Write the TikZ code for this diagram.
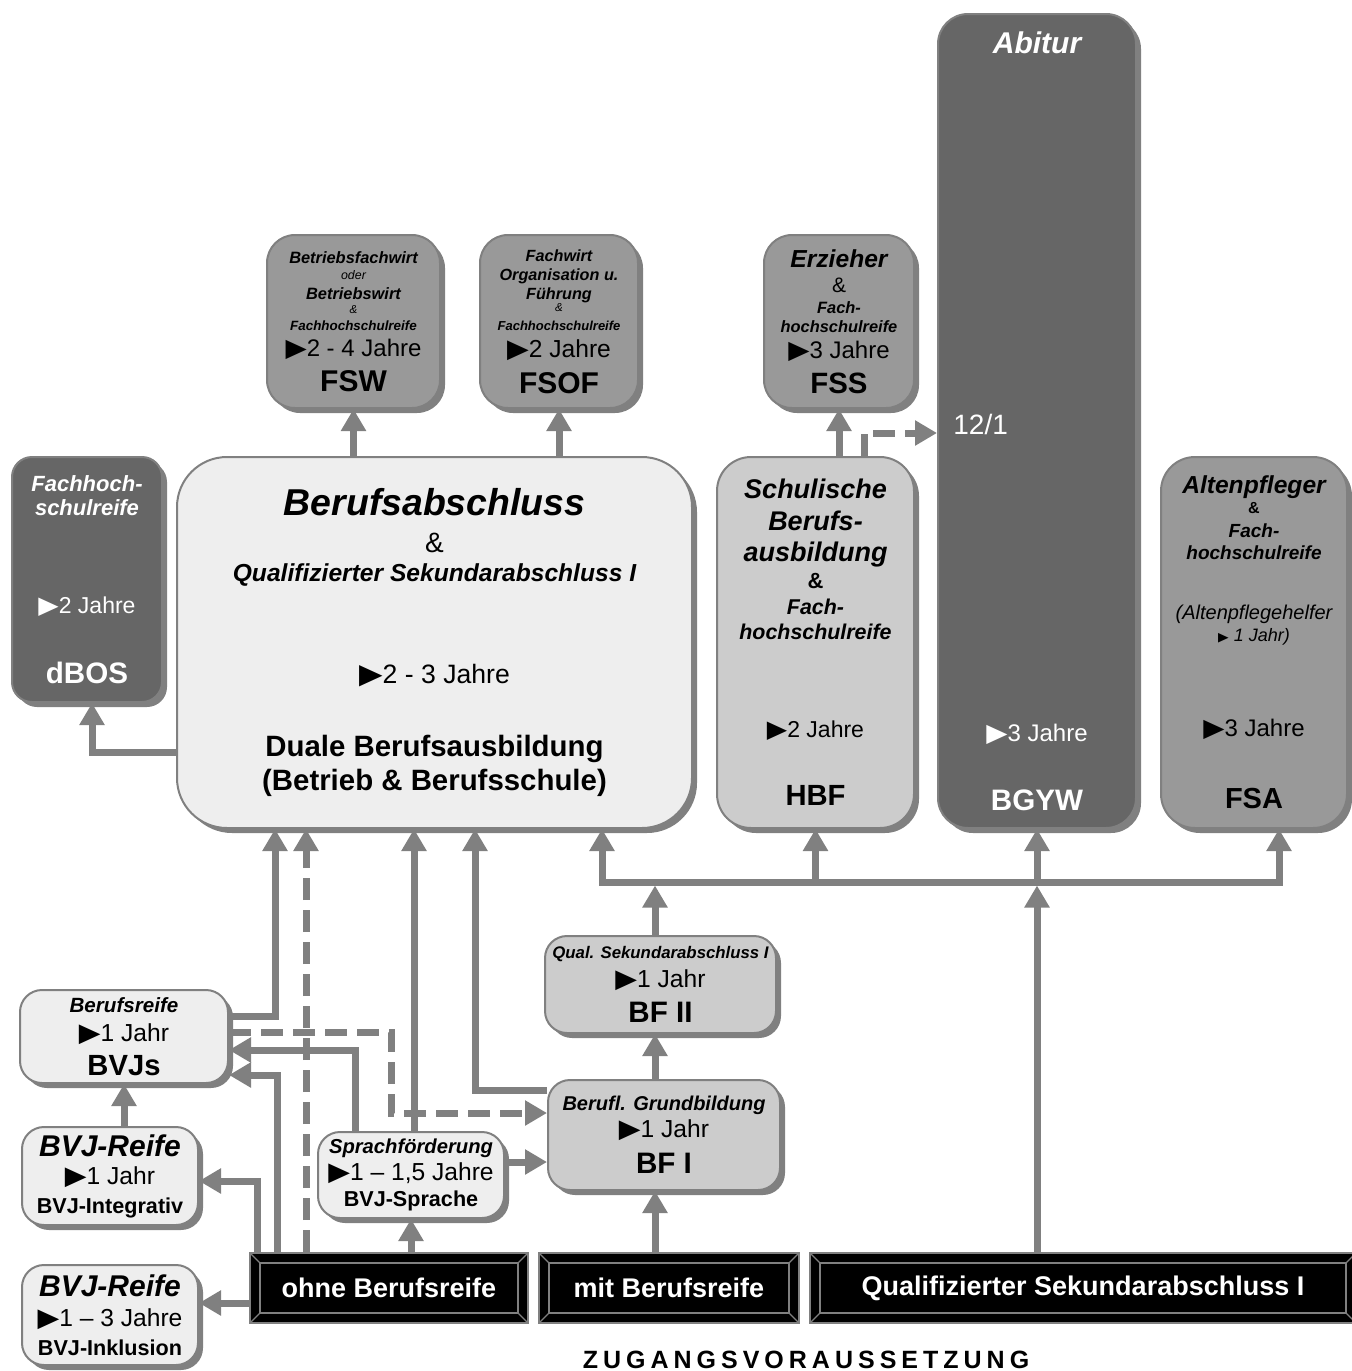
\documentclass[tikz,border=0pt]{standalone}
\usepackage{fontspec}
\setmainfont{Liberation Sans}
\newfontfamily\spacedfont[LetterSpace=20]{Liberation Sans}
\newfontfamily\symfont{DejaVu Sans}
\usetikzlibrary{
  arrows.meta,
  calc,
  positioning,
  shadows
}
\definecolor{linegray}{HTML}{808080}
\definecolor{boxlight}{HTML}{EEEEEE}
\definecolor{boxmid}{HTML}{CCCCCC}
\definecolor{boxgray}{HTML}{999999}
\definecolor{boxdark}{HTML}{666666}
\newcommand{\fs}[1]{\fontsize{#1}{0}\selectfont}
\newcommand{\bi}{\bfseries\itshape}
\newcommand{\pf}{{\symfont\scalebox{1.15}[1.05]{▶}}}
\tikzset{
  box/.style={
    draw=linegray,
    line width=1pt,
    rounded corners=11pt,
    fill=boxlight,
    align=center,
    inner sep=0pt,
    font=\fs{10},
    drop shadow={shadow xshift=2.5pt, shadow yshift=-2.5pt,
      fill=linegray, opacity=1}
  },
  midbox/.style={box, fill=boxmid},
  graybox/.style={box, fill=boxgray},
  darkbox/.style={box, fill=boxdark, text=white},
  bar/.style={
    fill=black,
    draw=linegray,
    line width=1pt,
    minimum height=35pt,
    inner sep=0pt,
    text=white,
    font=\fs{13.5}\bfseries,
    path picture={
      \draw[linegray, line width=0.8pt]
        ([shift={(5pt,-5pt)}]path picture bounding box.north west) rectangle
        ([shift={(-5pt,5pt)}]path picture bounding box.south east);
      \draw[linegray, line width=0.6pt]
        (path picture bounding box.north west) -- ++(5pt,-5pt)
        (path picture bounding box.north east) -- ++(-5pt,-5pt)
        (path picture bounding box.south west) -- ++(5pt,5pt)
        (path picture bounding box.south east) -- ++(-5pt,5pt);
    }
  },
  arrow/.style={-{Triangle[width=12pt, length=11pt]}, draw=linegray,
    line width=3.5pt},
  dashedarrow/.style={arrow, dash pattern=on 11pt off 5pt},
  busline/.style={draw=linegray, line width=3.5pt, line cap=rect}
}

\begin{document}
\begin{tikzpicture}[x=0.5pt, y=-0.5pt]
  \useasboundingbox (0,0) rectangle (1352,1371);

  % top row
  \node[graybox, minimum width=86.5pt, minimum height=86.5pt,
    rounded corners=14pt] (fsw) at (353.5,321.5)
    {{\fs{8.2}\bi Betriebsfachwirt}\\[2.5pt]
     {\fs{6.2}\itshape oder}\\[3pt]
     {\fs{8.2}\bi Betriebswirt}\\[1.8pt]
     {\fs{5.8}\itshape \&}\\[2.5pt]
     {\fs{6.7}\bi Fachhochschulreife}\\[3.7pt]
     {\fs{12}\pf2 - 4 Jahre}\\[4.2pt]
     {\fs{15}\bfseries FSW}};
  \node[graybox, minimum width=79pt, minimum height=86.5pt,
    rounded corners=14pt] (fsof) at (559,321.5)
    {{\fs{8.1}\bi Fachwirt}\\[2.5pt]
     {\fs{8.1}\bi Organisation u.}\\[0.8pt]
     {\fs{8.1}\bi Führung}\\[-0.4pt]
     {\fs{5.8}\itshape \&}\\[3.7pt]
     {\fs{6.5}\bi Fachhochschulreife}\\[3.5pt]
     {\fs{12.3}\pf2 Jahre}\\[4.7pt]
     {\fs{15}\bfseries FSOF}};
  \node[graybox, minimum width=75pt, minimum height=86.5pt,
    rounded corners=14pt] (fss) at (839,321.5)
    {{\fs{12.3}\bi Erzieher}\\[4.3pt]
     {\fs{10.5}\&}\\[3.3pt]
     {\fs{8.2}\bi Fach-}\\[2.5pt]
     {\fs{8.2}\bi hochschulreife}\\[3.2pt]
     {\fs{12}\pf3 Jahre}\\[4.9pt]
     {\fs{14.7}\bfseries FSS}};

  % Abitur column
  \node[darkbox, minimum width=99pt, minimum height=407pt,
    rounded corners=15pt] (bgyw) at (1037,421)
    {{\fs{15}\bi Abitur}\\[334.2pt]
     {\fs{12}\pf3 Jahre}\\[21.4pt]
     {\fs{14.8}\bfseries BGYW}};
  \node[font=\fs{14}, text=white, anchor=base west, inner sep=0pt] (klasse)
    at (953,434) {12/1};

  % middle row
  \node[darkbox, minimum width=75pt, minimum height=122.5pt,
    rounded corners=10pt] (dbos) at (87,579.5)
    {{\fs{11}\bi Fachhoch-}\\[3pt]
     {\fs{11}\bi schulreife}\\[39.6pt]
     {\fs{11.5}\pf2 Jahre}\\[21.8pt]
     {\fs{14.8}\bfseries dBOS}};
  \node[box, minimum width=257.5pt, minimum height=185.5pt,
    rounded corners=25pt] (main) at (434.5,642.5)
    {{\fs{18.7}\bi Berufsabschluss}\\[7.7pt]
     {\fs{14}\&}\\[4.3pt]
     {\fs{12.3}\bi Qualifizierter Sekundarabschluss I}\\[38.2pt]
     {\fs{13.3}\pf2 - 3 Jahre}\\[23pt]
     {\fs{14.7}\bfseries Duale Berufsausbildung}\\[2.2pt]
     {\fs{14.7}\bfseries (Betrieb \& Berufsschule)}};
  \node[midbox, minimum width=98.5pt, minimum height=185.5pt,
    rounded corners=17pt] (hbf) at (815.5,642.5)
    {{\fs{13.5}\bi Schulische}\\[5.1pt]
     {\fs{13.5}\bi Berufs-}\\[4.6pt]
     {\fs{13.5}\bi ausbildung}\\[1.7pt]
     {\fs{11}\bfseries \&}\\[4.5pt]
     {\fs{10.7}\bi Fach-}\\[3.7pt]
     {\fs{10.7}\bi hochschulreife}\\[39.1pt]
     {\fs{11.5}\pf2 Jahre}\\[21.8pt]
     {\fs{14.6}\bfseries HBF}};
  \node[graybox, minimum width=93pt, minimum height=185.5pt,
    rounded corners=17pt] (fsa) at (1254,642.5)
    {{\fs{12.3}\bi Altenpfleger}\\[1.1pt]
     {\fs{8}\bfseries \&}\\[3.9pt]
     {\fs{9.5}\bi Fach-}\\[3.1pt]
     {\fs{9.5}\bi hochschulreife}\\[21.7pt]
     {\fs{10}\itshape (Altenpflegehelfer}\\[1.3pt]
     {\fs{9}\itshape {\fs{6}\pf} 1 Jahr)}\\[35.8pt]
     {\fs{12}\pf3 Jahre}\\[23.6pt]
     {\fs{14.5}\bfseries FSA}};

  % lower boxes
  \node[midbox, minimum width=115.5pt, minimum height=48.5pt] (bf2)
    at (660.5,984.5)
    {{\fs{8.4}\bi Qual. Sekundarabschluss I}\\[3.1pt]
     {\fs{12.3}\pf1 Jahr}\\[4.7pt]
     {\fs{14.8}\bfseries BF II}};
  \node[midbox, minimum width=116pt, minimum height=55pt] (bf1)
    at (664,1135)
    {{\fs{10}\bi Berufl. Grundbildung}\\[1.4pt]
     {\fs{12.3}\pf1 Jahr}\\[5.2pt]
     {\fs{14.8}\bfseries BF I}};
  \node[box, minimum width=104pt, minimum height=46.5pt] (bvjs)
    at (124,1036.5)
    {{\fs{10.3}\bi Berufsreife}\\[4.5pt]
     {\fs{12.3}\pf1 Jahr}\\[4.3pt]
     {\fs{14.6}\bfseries BVJs}};
  \node[box, minimum width=88pt, minimum height=49pt] (integ)
    at (110,1176)
    {{\fs{15}\bi BVJ-Reife}\\[4.2pt]
     {\fs{12.3}\pf1 Jahr}\\[3.9pt]
     {\fs{10.8}\bfseries BVJ-Integrativ}};
  \node[box, minimum width=88pt, minimum height=50pt] (inkl)
    at (110,1315)
    {{\fs{15}\bi BVJ-Reife}\\[5.2pt]
     {\fs{12.3}\pf1 – 3 Jahre}\\[3.9pt]
     {\fs{10.8}\bfseries BVJ-Inklusion}};
  \node[box, minimum width=93pt, minimum height=43pt] (sprach)
    at (411,1175)
    {{\fs{10.1}\bi Sprachförderung}\\[1.4pt]
     {\fs{12.3}\pf1 – 1,5 Jahre}\\[2.6pt]
     {\fs{10.8}\bfseries BVJ-Sprache}};

  % entry bars
  \node[bar, minimum width=139pt] (ohne) at (389,1288) {ohne Berufsreife};
  \node[bar, minimum width=130pt, right=4.5pt of ohne] (mit)
    {mit Berufsreife};
  \node[bar, minimum width=273pt, right=4.5pt of mit] (qual)
    {Qualifizierter Sekundarabschluss I};
  \node[font=\spacedfont\bfseries\fs{12.5}, anchor=base] (zugang)
    at (806,1368) {ZUGANGSVORAUSSETZUNG};

  % arrows to the top row
  \draw[arrow] (main.north -| fsw.south) -- (fsw.south);
  \draw[arrow] (main.north -| fsof.south) -- (fsof.south);
  \draw[arrow] (hbf.north -| fss.south) -- (fss.south);
  \coordinate (knick) at ($(fss.south)+(25,24)$);
  \draw[dashedarrow] (knick |- hbf.north) -- (knick) -- (knick -| bgyw.west);
  \draw[arrow] ([yshift=-54.75pt]main.west) -| ([xshift=2.5pt]dbos.south);

  % bus below the middle row
  \coordinate (bus) at (0,882);
  \path ([xshift=-45.5pt]main.south east) coordinate (m3);
  \path ([xshift=12.5pt]fsa.south) coordinate (f1);
  \path ([xshift=-2.75pt]bf2.north) coordinate (b2);
  \draw[busline] (m3 |- bus) -- (f1 |- bus);
  \draw[arrow] (m3 |- bus) -- (m3);
  \draw[arrow] (hbf.south |- bus) -- (hbf.south);
  \draw[arrow] (bgyw.south |- bus) -- (bgyw.south);
  \draw[arrow] (f1 |- bus) -- (f1);
  \draw[arrow, shorten >=1.75pt] (b2) -- (b2 |- bus);
  \draw[arrow, shorten >=1.75pt] (qual.north -| bgyw.south)
    -- (bgyw.south |- bus);
  \draw[arrow] (b2 |- bf1.north) -- (b2 |- bf2.south);
  \draw[arrow] (b2 |- mit.north) -- (b2 |- bf1.south);

  % arrows into the dual system
  \draw[arrow] ([yshift=10.25pt]bvjs.east) -| ([xshift=49.5pt]main.south west);
  \draw[dashedarrow] ([xshift=28.5pt]ohne.north west) coordinate (o1)
    -- (o1 |- main.south);
  \draw[arrow] ([xshift=1.5pt]sprach.north) coordinate (s1)
    -- (s1 |- main.south);
  \draw[arrow] ([yshift=22.5pt]bf1.west) -| ([xshift=149.5pt]main.south west);

  % lower left
  \draw[dashedarrow] ([yshift=2.25pt]bvjs.east) -- ++(162,0)
    |- ([yshift=11pt]bf1.west);
  \draw[arrow] ([xshift=-28pt]sprach.north) |- ([yshift=-6.75pt]bvjs.east);
  \draw[arrow] ([xshift=14pt]ohne.north west) |- ([yshift=-19.25pt]bvjs.east);
  \draw[arrow] ([xshift=4pt]ohne.north west) |- ([yshift=-2.5pt]integ.east);
  \draw[arrow] ([yshift=-7.5pt]ohne.west) coordinate (o2) -- (o2 -| inkl.east);
  \draw[arrow] (integ.north -| bvjs.south) -- (bvjs.south);
  \draw[arrow] (ohne.north -| sprach.south) -- (sprach.south);
  \draw[arrow] ([yshift=6.5pt]sprach.east) coordinate (s2) -- (s2 -| bf1.west);
\end{tikzpicture}
\end{document}
